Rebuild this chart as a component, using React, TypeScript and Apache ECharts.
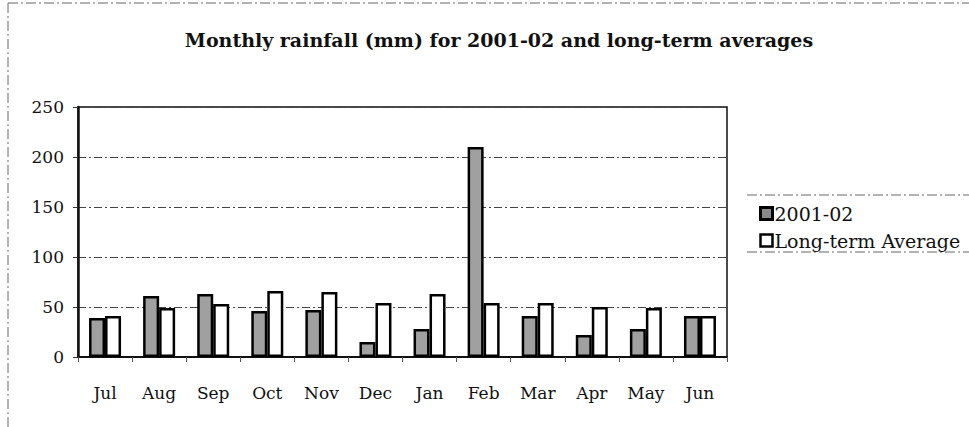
import React, { useEffect, useRef } from "react";
import * as echarts from "echarts";

const months = ["Jul", "Aug", "Sep", "Oct", "Nov", "Dec", "Jan", "Feb", "Mar", "Apr", "May", "Jun"];
const rain2001 = [39, 61, 63, 46, 47, 15, 28, 210, 41, 22, 28, 41];
const longTermAvg = [41, 49, 53, 66, 65, 54, 63, 54, 54, 50, 49, 41];
const seriesNames = ["2001-02", "Long-term Average"];
const titleText = "Monthly rainfall (mm) for 2001-02 and long-term averages";

const FONT = "'DejaVu Serif', serif";

export default function App() {
  const ref = useRef<HTMLDivElement>(null);
  useEffect(() => {
    if (!ref.current) return;
    const chart = echarts.init(ref.current, null, { renderer: "svg" });
    chart.setOption({
      animation: false,
      backgroundColor: "#ffffff",
      title: {
        text: titleText,
        left: 494,
        textAlign: "center",
        top: 25,
        textStyle: { fontFamily: FONT, fontWeight: "bold", fontSize: 19, color: "#111" },
      },
      legend: {
        orient: "vertical",
        left: 754,
        top: 199,
        icon: "rect",
        itemWidth: 12,
        itemHeight: 12,
        itemGap: 8,
        data: [
          { name: seriesNames[0], itemStyle: { color: "#8a8a8a", borderColor: "#000", borderWidth: 3 } },
          { name: seriesNames[1], itemStyle: { color: "#fff", borderColor: "#000", borderWidth: 2.5 } },
        ],
        textStyle: { fontFamily: FONT, fontSize: 19, color: "#111", padding: [0, 0, 0, -3] },
      },
      grid: {
        left: 78,
        top: 107,
        width: 649,
        height: 250,
        show: true,
        borderColor: "#111",
        borderWidth: 1.5,
        backgroundColor: "transparent",
      },
      xAxis: {
        type: "category",
        data: months,
        axisLine: { lineStyle: { color: "#111", width: 2 } },
        axisTick: { show: true, inside: false, length: 5, lineStyle: { color: "#555" } },
        axisLabel: { fontFamily: FONT, fontSize: 17, color: "#111", margin: 27 },
      },
      yAxis: {
        type: "value",
        min: 0,
        max: 250,
        interval: 50,
        axisLine: { show: true, lineStyle: { color: "#111", width: 2.5 } },
        axisTick: { show: true, length: 5, lineStyle: { color: "#333" } },
        axisLabel: { fontFamily: FONT, fontSize: 17, color: "#111", margin: 14 },
        splitLine: { lineStyle: { color: "#444", width: 1, type: [8, 3, 2, 3] } },
      },
      series: [
        {
          name: seriesNames[0],
          type: "bar",
          data: rain2001,
          barWidth: 16,
          barGap: "0%",
          itemStyle: { color: "#a0a0a0", borderColor: "#000", borderWidth: 2.5 },
        },
        {
          name: seriesNames[1],
          type: "bar",
          data: longTermAvg,
          barWidth: 16,
          itemStyle: { color: "#ffffff", borderColor: "#000", borderWidth: 2.5 },
        },
      ],
      graphic: [
        { type: "line", shape: { x1: 8, y1: 3, x2: 969, y2: 3 }, style: { stroke: "#666", lineWidth: 1, lineDash: [10, 3, 2, 3] } },
        { type: "line", shape: { x1: 8, y1: 3, x2: 8, y2: 427 }, style: { stroke: "#666", lineWidth: 1, lineDash: [10, 3, 2, 3] } },
        { type: "line", shape: { x1: 747, y1: 195, x2: 969, y2: 195 }, style: { stroke: "#666", lineWidth: 1, lineDash: [10, 3, 2, 3] } },
        { type: "line", shape: { x1: 747, y1: 252, x2: 969, y2: 252 }, style: { stroke: "#666", lineWidth: 1, lineDash: [10, 3, 2, 3] } },
      ],
    });
    return () => chart.dispose();
  }, []);
  return <div ref={ref} style={{ position: "fixed", left: 0, top: 0, width: 969, height: 427 }} />;
}
